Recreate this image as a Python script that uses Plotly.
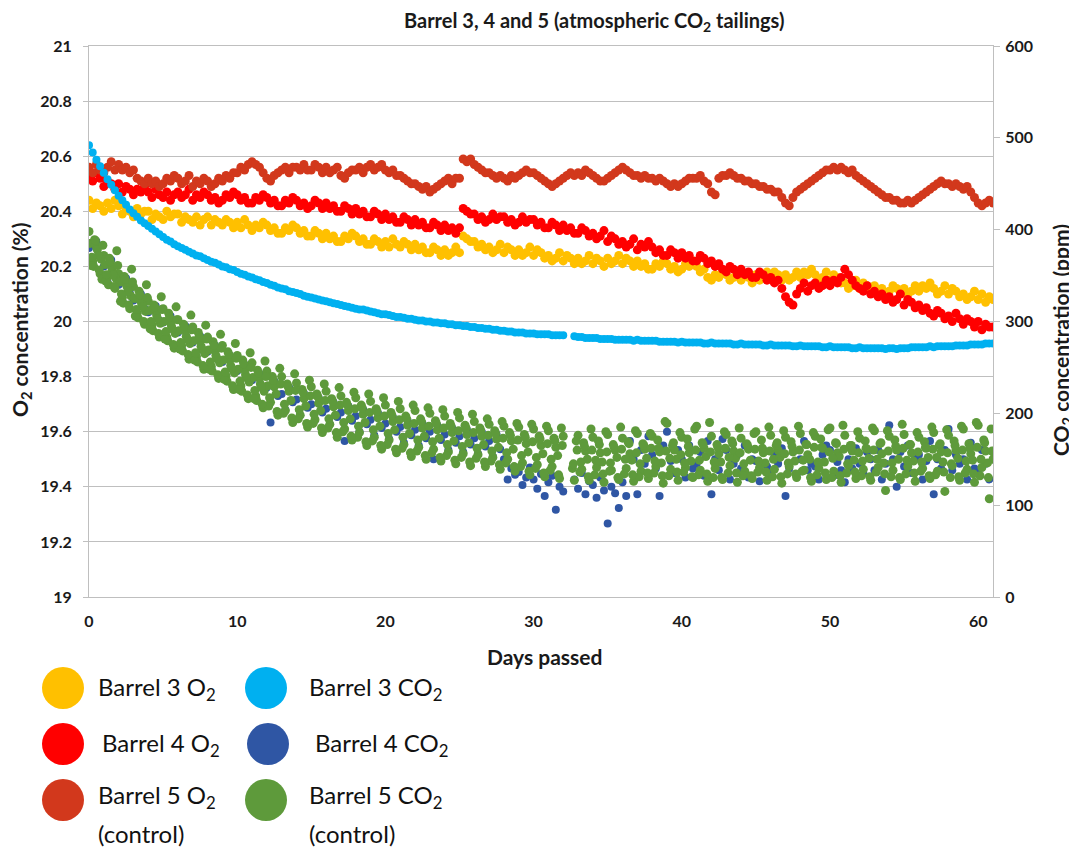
import numpy as np
import plotly.graph_objects as go

# ---------------- data ----------------
# sampling grid: every 0.25 day from day 0 to day 61
days = np.arange(245) * 0.25

barrel3_o2 = [
 20.44, 20.41, 20.43, 20.42,  20.40, 20.43, 20.41, 20.44,  20.42, 20.39, 20.41, 20.40,
 20.38, 20.41, 20.39, 20.40,  20.40, 20.37, 20.39, 20.38,  20.37, 20.40, 20.38, 20.39,
 20.39, 20.36, 20.38, 20.37,  20.36, 20.38, 20.35, 20.37,  20.38, 20.35, 20.37, 20.36,
 20.35, 20.37, 20.36, 20.34,  20.36, 20.34, 20.37, 20.35,  20.33, 20.35, 20.34, 20.36,
 20.35, 20.33, 20.34, 20.32,  20.32, 20.34, 20.33, 20.35,  20.34, 20.32, 20.33, 20.31,
 20.31, 20.33, 20.32, 20.30,  20.32, 20.30, 20.31, 20.29,  20.29, 20.31, 20.30, 20.32,
 20.31, 20.29, 20.30, 20.28,  20.28, 20.30, 20.29, 20.27,  20.29, 20.27, 20.30, 20.28,
 20.27, 20.29, 20.28, 20.26,  20.28, 20.26, 20.27, 20.25,  20.25, 20.27, 20.26, 20.24,
 20.26, 20.24, 20.25, 20.27,  20.25, 20.31, 20.30, 20.29,  20.29, 20.27, 20.28, 20.26,
 20.27, 20.25, 20.26, 20.28,  20.25, 20.27, 20.26, 20.24,  20.26, 20.24, 20.25, 20.27,
 20.24, 20.26, 20.25, 20.23,  20.24, 20.22, 20.23, 20.25,  20.22, 20.24, 20.23, 20.21,
 20.23, 20.21, 20.22, 20.24,  20.21, 20.23, 20.22, 20.20,  20.23, 20.21, 20.22, 20.24,
 20.21, 20.23, 20.22, 20.20,  20.22, 20.20, 20.21, 20.19,  20.19, 20.21, 20.20, 20.22,
 20.21, 20.19, 20.20, 20.18,  20.19, 20.21, 20.20, 20.22,  20.20, 20.18, 20.19, 20.16,
 20.15, 20.17, 20.16, 20.18,  20.17, 20.15, 20.16, 20.18,  20.15, 20.17, 20.16, 20.14,
 20.17, 20.15, 20.16, 20.18,  20.16, 20.18, 20.17, 20.15,  20.17, 20.15, 20.16, 20.18,
 20.16, 20.18, 20.17, 20.19,  20.17, 20.15, 20.16, 20.18,  20.15, 20.17, 20.16, 20.14,
 20.14, 20.12, 20.13, 20.15,  20.12, 20.14, 20.13, 20.11,  20.13, 20.11, 20.12, 20.10,
 20.11, 20.13, 20.12, 20.10,  20.12, 20.10, 20.11, 20.13,  20.11, 20.13, 20.12, 20.14,
 20.12, 20.10, 20.11, 20.13,  20.10, 20.12, 20.11, 20.09,  20.10, 20.08, 20.09, 20.11,
 20.08, 20.10, 20.07, 20.09,  20.08]

barrel4_o2 = [
 20.53, 20.51, 20.54, 20.52,  20.49, 20.51, 20.50, 20.48,  20.50, 20.47, 20.49, 20.48,
 20.46, 20.48, 20.47, 20.49,  20.47, 20.45, 20.48, 20.46,  20.45, 20.47, 20.44, 20.46,
 20.47, 20.45, 20.46, 20.48,  20.44, 20.46, 20.45, 20.47,  20.46, 20.44, 20.45, 20.43,
 20.44, 20.46, 20.45, 20.47,  20.46, 20.44, 20.45, 20.43,  20.43, 20.45, 20.44, 20.46,
 20.45, 20.43, 20.44, 20.42,  20.42, 20.44, 20.43, 20.45,  20.44, 20.42, 20.43, 20.41,
 20.42, 20.44, 20.43, 20.41,  20.43, 20.41, 20.42, 20.40,  20.40, 20.42, 20.41, 20.39,
 20.41, 20.39, 20.40, 20.38,  20.38, 20.40, 20.39, 20.37,  20.39, 20.37, 20.38, 20.36,
 20.36, 20.38, 20.37, 20.35,  20.37, 20.35, 20.36, 20.34,  20.34, 20.36, 20.35, 20.33,
 20.35, 20.33, 20.34, 20.32,  20.34, 20.41, 20.40, 20.39,  20.39, 20.37, 20.38, 20.36,
 20.37, 20.39, 20.37, 20.38,  20.38, 20.36, 20.37, 20.35,  20.36, 20.38, 20.36, 20.37,
 20.37, 20.35, 20.36, 20.34,  20.34, 20.36, 20.35, 20.33,  20.35, 20.33, 20.34, 20.32,
 20.32, 20.34, 20.33, 20.31,  20.32, 20.30, 20.31, 20.33,  20.29, 20.31, 20.30, 20.28,
 20.29, 20.27, 20.28, 20.30,  20.26, 20.28, 20.27, 20.29,  20.27, 20.25, 20.26, 20.24,
 20.24, 20.26, 20.25, 20.23,  20.25, 20.23, 20.24, 20.22,  20.22, 20.24, 20.23, 20.21,
 20.22, 20.20, 20.21, 20.19,  20.18, 20.20, 20.19, 20.17,  20.19, 20.17, 20.18, 20.16,
 20.16, 20.18, 20.17, 20.15,  20.16, 20.14, 20.15, 20.12,  20.09, 20.07, 20.06, 20.10,
 20.12, 20.14, 20.11, 20.13,  20.14, 20.12, 20.13, 20.15,  20.13, 20.15, 20.14, 20.16,
 20.19, 20.17, 20.15, 20.13,  20.12, 20.11, 20.13, 20.10,  20.11, 20.09, 20.10, 20.08,
 20.09, 20.07, 20.08, 20.10,  20.06, 20.08, 20.07, 20.05,  20.06, 20.04, 20.05, 20.03,
 20.02, 20.04, 20.03, 20.01,  20.02, 20.00, 20.03, 20.01,  19.99, 20.01, 20.00, 19.98,
 20.00, 19.97, 19.99, 19.98,  19.98]

barrel5_o2 = [
 20.56, 20.54, 20.57, 20.55,  20.54, 20.56, 20.58, 20.55,  20.57, 20.55, 20.56, 20.54,
 20.55, 20.52, 20.51, 20.50,  20.52, 20.50, 20.51, 20.49,  20.50, 20.52, 20.51, 20.53,
 20.52, 20.50, 20.51, 20.53,  20.49, 20.51, 20.50, 20.52,  20.51, 20.49, 20.50, 20.52,
 20.51, 20.53, 20.52, 20.54,  20.54, 20.56, 20.55, 20.57,  20.58, 20.57, 20.56, 20.54,
 20.52, 20.51, 20.53, 20.54,  20.55, 20.56, 20.54, 20.56,  20.56, 20.55, 20.57, 20.55,
 20.55, 20.57, 20.56, 20.54,  20.56, 20.54, 20.55, 20.56,  20.53, 20.52, 20.54, 20.55,
 20.55, 20.56, 20.54, 20.56,  20.57, 20.55, 20.56, 20.57,  20.55, 20.54, 20.55, 20.53,
 20.53, 20.52, 20.51, 20.50,  20.50, 20.49, 20.48, 20.49,  20.47, 20.48, 20.49, 20.50,
 20.51, 20.52, 20.50, 20.52,  20.52, 20.59, 20.58, 20.59,  20.57, 20.56, 20.55, 20.54,
 20.54, 20.53, 20.52, 20.53,  20.52, 20.51, 20.53, 20.52,  20.53, 20.54, 20.55, 20.54,
 20.54, 20.53, 20.52, 20.51,  20.50, 20.49, 20.50, 20.51,  20.52, 20.53, 20.54, 20.53,
 20.54, 20.53, 20.55, 20.54,  20.53, 20.52, 20.51, 20.51,  20.52, 20.53, 20.54, 20.55,
 20.56, 20.55, 20.54, 20.53,  20.53, 20.52, 20.53, 20.52,  20.52, 20.51, 20.52, 20.51,
 20.50, 20.49, 20.50, 20.49,  20.50, 20.51, 20.52, 20.52,  20.52, 20.53, 20.51, 20.50,
 20.47, 20.46, 20.52, 20.53,  20.53, 20.54, 20.53, 20.52,  20.52, 20.51, 20.51, 20.50,
 20.50, 20.49, 20.49, 20.48,  20.48, 20.47, 20.47, 20.45,  20.43, 20.42, 20.45, 20.47,
 20.48, 20.49, 20.50, 20.51,  20.52, 20.53, 20.54, 20.55,  20.55, 20.56, 20.55, 20.56,
 20.55, 20.54, 20.55, 20.53,  20.52, 20.51, 20.50, 20.49,  20.48, 20.47, 20.46, 20.45,
 20.45, 20.44, 20.44, 20.43,  20.43, 20.44, 20.43, 20.44,  20.45, 20.46, 20.47, 20.48,
 20.49, 20.50, 20.51, 20.50,  20.50, 20.49, 20.50, 20.49,  20.48, 20.49, 20.47, 20.45,
 20.43, 20.42, 20.43, 20.44,  20.43]

barrel3_co2 = [
 492, 484, 476, 469,  462, 455, 449, 443,  437, 432, 427, 422,  418, 414, 410, 407,
 404, 401, 398, 395,  392, 389, 387, 384,  382, 380, 378, 376,  374, 372, 371, 369,
 367, 365, 364, 362,  360, 359, 357, 356,  354, 352, 351, 349,  348, 346, 345, 343,
 342, 340, 339, 337,  336, 335, 333, 332,  331, 330, 328, 327,  326, 325, 324, 323,
 322, 321, 320, 319,  318, 317, 316, 315,  314, 313, 313, 312,  311, 310, 309, 308,
 308, 307, 306, 305,  305, 304, 303, 303,  302, 301, 301, 300,  300, 299, 299, 298,
 298, 297, 297, 296,  296, 295, 295, 294,  294, 293, 293, 292,  292, 291, 291, 290,
 290, 289, 289, 288,  288, 288, 287, 287,  287, 286, 286, 286,  286, 285, 285, 285,
 285, None, None, 284,  283, 283, 282, 282,  282, 282, 281, 281,  281, 281, 280, 280,
 280, 280, 280, 279,  280, 279, 279, 279,  279, 279, 278, 278,  278, 278, 278, 277,
 278, 277, 277, 277,  277, 277, 276, 276,  277, 276, 276, 276,  276, 276, 275, 275,
 276, 275, 275, 275,  275, 275, 274, 274,  275, 274, 274, 274,  274, 274, 273, 273,
 274, 273, 273, 273,  273, 273, 272, 272,  273, 272, 272, 272,  272, 272, 271, 271,
 272, 271, 271, 271,  271, 271, 271, 270,  271, 271, 270, 271,  271, 271, 272, 272,
 272, 272, 272, 273,  272, 273, 273, 273,  273, 273, 274, 274,  274, 274, 275, 275,
 275, 275, 276, 276,  276]

barrel4_co2 = [
 380, 363, 387, 371,  360, 343, 367, 351,  340, 323, 347, 331,  323, 306, 330, 314,
 310, 293, 317, 301,  299, 282, 306, 290,  288, 271, 295, 279,  277, 260, 284, 268,
 267, 250, 274, 258,  256, 239, 263, 247,  246, 229, 253, 237,  236, 219, 243, 227,
 228, 190, 235, 219,  221, 204, 228, 212,  215, 198, 222, 206,  210, 193, 217, 201,
 205, 188, 212, 196,  201, 170, 208, 192,  197, 180, 204, 188,  193, 176, 200, 184,
 189, 172, 196, 180,  185, 168, 192, 176,  182, 165, 189, 173,  180, 150, 187, 171,
 177, 160, 184, 168,  175, 158, 182, 166,  173, 156, 180, 164,  170, 153, 177, 161,
 150, 128, 140, 133,  136, 122, 130, 141,  128, 118, 134, 110,  125, 132, 95, 120,
 115, None, None, 128,  118, 135, 112, 126,  122, 108, 130, 116,  80, 120, 113, 97,
 125, 110, 170, 150,  112, 160, 145, 175,  155, 140, 110, 165,  180, 148, 135, 160,
 150, 130, 165, 140,  145, 158, 132, 170,  112, 150, 138, 172,  160, 128, 145, 155,
 140, 165, 130, 150,  148, 126, 160, 142,  135, 155, 145, 162,  110, 140, 158, 132,
 150, 170, 138, 145,  142, 128, 155, 165,  160, 132, 147, 138,  125, 150, 140, 162,
 145, 135, 158, 150,  138, 160, 128, 145,  187, 150, 120, 158,  142, 165, 135, 150,
 155, 128, 148, 170,  112, 150, 140, 160,  183, 138, 155, 145,  150, 128, 168, 140,
 135, 160, 145, 128,  150]

barrel5_co2_a = [
 398, 366, 381, 352,  372, 348, 360, 336,  352, 326, 341, 314,  338, 309, 322, 297,
 322, 296, 311, 283,  314, 283, 299, 271,  302, 274, 290, 259,  294, 262, 279, 248,
 283, 251, 268, 238,  274, 241, 258, 226,  263, 230, 247, 216,  255, 219, 238, 206,
 246, 212, 229, 198,  240, 203, 224, 190,  233, 198, 216, 185,  229, 193, 211, 179,
 224, 188, 207, 174,  219, 183, 203, 171,  217, 179, 199, 165,  213, 174, 195, 161,
 209, 171, 191, 157,  205, 166, 187, 153,  203, 163, 184, 150,  200, 161, 182, 148,
 197, 158, 179, 145,  195, 156, 177, 143,  191, 155, 175, 142,  188, 152, 172, 139,
 186, 150, 170, 137,  185, 146, 167, 133,  183, 144, 165, 131,  181, 142, 163, 129,
 175, None, None, 127,  176, 139, 159, 127,  174, 141, 157, 125,  177, 138, 160, 128,
 173, 140, 156, 126,  178, 137, 161, 129,  175, 142, 158, 124,  189, 139, 160, 127,
 174, 141, 157, 130,  186, 138, 162, 126,  175, 140, 156, 128,  177, 143, 159, 125,
 173, 137, 161, 129,  180, 141, 157, 127,  176, 139, 160, 124,  174, 142, 158, 130,
 178, 138, 155, 126,  175, 140, 162, 128,  184, 137, 157, 125,  176, 143, 159, 129,
 173, 139, 161, 127,  181, 141, 156, 116,  175, 138, 160, 128,  177, 142, 157, 126,
 174, 140, 162, 129,  179, 137, 158, 115,  176, 143, 160, 127,  183, 139, 156, 125,
 187, 141, 159, 107,  150]

barrel5_co2_b = [
 361, 389, 372, 346,  344, 369, 351, 377,  322, 349, 333, 357,  306, 333, 316, 340,
 292, 318, 303, 327,  281, 309, 292, 316,  270, 297, 281, 307,  258, 288, 270, 296,
 248, 278, 260, 286,  237, 267, 249, 276,  226, 258, 239, 266,  216, 247, 229, 257,
 208, 240, 221, 249,  200, 232, 214, 243,  194, 226, 208, 236,  189, 221, 203, 232,
 184, 216, 198, 228,  180, 212, 194, 223,  174, 209, 190, 221,  170, 205, 186, 217,
 166, 201, 182, 213,  162, 197, 178, 209,  159, 194, 175, 206,  157, 192, 173, 204,
 154, 189, 170, 201,  152, 187, 168, 199,  151, 184, 166, 194,  148, 181, 163, 191,
 146, 179, 161, 189,  142, 177, 158, 188,  140, 175, 156, 186,  138, 173, 154, 184,
 None, None, 140, 170,  136, 168, 150, 183,  133, 170, 147, 180,  137, 166, 152, 185,
 134, 169, 149, 181,  131, 167, 151, 178,  135, 171, 146, 191,  132, 165, 150, 179,
 136, 172, 148, 183,  133, 168, 153, 190,  130, 166, 147, 180,  135, 170, 151, 184,
 132, 167, 149, 178,  136, 171, 146, 185,  131, 165, 152, 181,  134, 169, 148, 186,
 137, 166, 150, 179,  133, 172, 147, 182,  130, 168, 153, 187,  135, 165, 149, 180,
 132, 170, 151, 184,  136, 167, 146, 181,  131, 171, 150, 188,  134, 166, 148, 179,
 137, 169, 152, 185,  133, 165, 147, 182,  130, 170, 151, 186,  135, 167, 149, 190,
 132, 171, 146, 183,  155]

barrel5_co2_c = [
 385, 360, 378, 368,  362, 340, 356, 347,  343, 320, 338, 328,  325, 304, 319, 311,
 312, 290, 307, 298,  300, 279, 295, 287,  290, 268, 284, 276,  279, 256, 273, 265,
 269, 246, 263, 255,  258, 235, 252, 244,  248, 224, 242, 234,  239, 214, 232, 224,
 230]

barrel5_co2_d = [
 370, 388, 356, 383,  351, 365, 338, 361,  330, 346, 318, 343,  313, 329, 300, 326,
 300, 316, 287, 313,  289, 305, 275, 302,  277, 295, 264, 291,  266, 284, 252, 281,
 256, 274, 242, 271,  245, 264, 230, 260,  235, 254, 220, 250,  225, 244, 210, 240,
 217, 236, 202, 232,  210, 229, 195, 225,  204, 223, 189, 219,  199, 218, 184, 214,
 194, 213, 179, 209,  190, 209, 175, 205,  186, 206, 169, 201,  182, 202, 165, 197,
 178, 198, 161, 193,  174, 194, 157, 189,  171, 191, 154, 186,  169, 189, 152, 184,
 166, 186, 149, 181,  164, 184, 147, 179,  162, 181, 147, 176,  159, 178, 144, 173,
 157, 176, 142, 171,  154, 174, 137, 169,  152, 172, 135, 167,  150, 170, 133, 165,
 None, None, 145, 160,  147, 164, 131, 160,  149, 166, 134, 158,  146, 163, 130, 161,
 150, 167, 133, 157,  145, 165, 135, 162,  148, 162, 132, 159,  151, 168, 136, 155,
 146, 164, 131, 160,  149, 166, 134, 158,  147, 163, 130, 162,  152, 167, 135, 157,
 145, 165, 132, 161,  148, 162, 136, 159,  150, 168, 131, 156,  146, 164, 134, 160,
 149, 166, 130, 163,  147, 163, 135, 158,  151, 167, 132, 161,  145, 165, 136, 157,
 148, 162, 131, 160,  150, 168, 134, 159,  146, 164, 130, 162,  149, 166, 135, 158,
 147, 163, 132, 161,  152, 167, 136, 157,  145, 165, 131, 160,  148, 162, 134, 163,
 150, 168, 130, 159,  152]

x_ticks = [0, 10, 20, 30, 40, 50, 60]

legend_items = [
    ("Barrel 3 O<sub>2</sub>", "#FFC000"),
    ("Barrel 4 O<sub>2</sub>", "#FF0000"),
    ("Barrel 5 O<sub>2</sub>", "#D2381C"),
    ("Barrel 3 CO<sub>2</sub>", "#00B0F0"),
    ("Barrel 4 CO<sub>2</sub>", "#2F56A4"),
    ("Barrel 5 CO<sub>2</sub>", "#5E9A3B"),
]

# ---------------- figure ----------------
FONT = "Lato"
PAGE_OFF = 8                      # default body margin of the html page
W, H = 1077 - PAGE_OFF, 853 - PAGE_OFF
PLOT_L, PLOT_R, PLOT_T, PLOT_B = 89, 993, 46, 597   # plot box in page pixels
L = PLOT_L - PAGE_OFF
T = PLOT_T - PAGE_OFF
R = W - (PLOT_R - PAGE_OFF)
B = H - (PLOT_B - PAGE_OFF)
PW, PH = PLOT_R - PLOT_L, PLOT_B - PLOT_T


def px_x(px):
    return (px - PLOT_L) / PW


def px_y(py):
    return (PLOT_B - py) / PH


def xs(vals, offset=0.0):
    return days[:len(vals)] + offset


fig = go.Figure()

o2_series = [(barrel3_o2, legend_items[0]), (barrel4_o2, legend_items[1]),
             (barrel5_o2, legend_items[2])]
for vals, (name, col) in o2_series:
    fig.add_trace(go.Scatter(x=xs(vals), y=vals, mode="markers", name=name,
                             marker=dict(color=col, size=9, line=dict(width=0)),
                             showlegend=False))

fig.add_trace(go.Scatter(x=xs(barrel3_co2), y=barrel3_co2, mode="markers",
                         yaxis="y2", marker=dict(color=legend_items[3][1], size=8),
                         showlegend=False))
fig.add_trace(go.Scatter(x=xs(barrel4_co2), y=barrel4_co2, mode="markers",
                         yaxis="y2", marker=dict(color=legend_items[4][1], size=8),
                         showlegend=False))
green_x = np.concatenate([xs(barrel5_co2_a), xs(barrel5_co2_c, 0.0625),
                          xs(barrel5_co2_b, 0.125), xs(barrel5_co2_d, 0.1875)])
green_y = (list(barrel5_co2_a) + list(barrel5_co2_c) + list(barrel5_co2_b)
           + list(barrel5_co2_d))
fig.add_trace(go.Scatter(x=green_x, y=green_y, mode="markers", yaxis="y2",
                         marker=dict(color=legend_items[5][1], size=9),
                         showlegend=False))

tickfont = dict(family=FONT, size=16, color="#1a1a1a", weight="bold")
grid = "#BFBFBF"

fig.update_layout(
    width=W, height=H,
    margin=dict(l=L, r=R, t=T, b=B),
    paper_bgcolor="white", plot_bgcolor="white",
    showlegend=False,
    xaxis=dict(range=[0, 61], tickvals=x_ticks, showgrid=False, zeroline=False,
               showline=True, mirror=True, linecolor=grid, linewidth=1,
               ticks="", ticklabelstandoff=10, tickfont=tickfont),
    yaxis=dict(range=[19, 21], dtick=0.2, tick0=19, showgrid=True, gridcolor=grid,
               gridwidth=1, zeroline=False, showline=True, linecolor=grid,
               ticks="outside", ticklen=5, tickcolor=grid,
               ticklabelstandoff=8, tickfont=tickfont),
    yaxis2=dict(range=[0, 600], dtick=100, overlaying="y", side="right",
                showgrid=False, zeroline=False, showline=True, linecolor=grid,
                ticks="outside", ticklen=6, tickcolor=grid,
                ticklabelstandoff=2, tickfont=tickfont),
)

title_font = dict(family=FONT, size=21, color="#1a1a1a", weight="bold")
ann = []
ann.append(dict(text="Barrel 3, 4 and 5 (atmospheric CO<sub>2</sub> tailings)",
                x=px_x(594), y=px_y(22), xref="paper", yref="paper",
                showarrow=False, xanchor="center", yanchor="middle",
                borderpad=0, font=dict(family=FONT, size=20, color="#1a1a1a",
                                       weight="bold")))
ann.append(dict(text="O<sub>2</sub> concentration (%)", textangle=-90,
                x=px_x(21), y=px_y(320), xref="paper", yref="paper",
                showarrow=False, xanchor="center", yanchor="middle",
                font=title_font))
ann.append(dict(text="CO<sub>2</sub> concentration (ppm)", textangle=-90,
                x=px_x(1062), y=px_y(340), xref="paper", yref="paper",
                showarrow=False, xanchor="center", yanchor="middle",
                font=title_font))
ann.append(dict(text="Days passed", x=px_x(544), y=px_y(656), xref="paper",
                yref="paper", showarrow=False, xanchor="center", yanchor="middle",
                font=title_font))

# custom legend (large circles + labels) below the plot
leg_pos = [(63, 688, 96, 688), (63, 744, 100, 744), (63, 800, 96, 796),
           (266, 688, 307, 688), (268, 744, 313, 744), (266, 800, 307, 796)]
shapes = []
lfont = dict(family=FONT, size=24, color="#111111")
for (name, col), (cx, cy, tx, ty) in zip(legend_items, leg_pos):
    shapes.append(dict(type="circle", xref="paper", yref="paper",
                       xsizemode="pixel", ysizemode="pixel",
                       xanchor=px_x(cx), yanchor=px_y(cy),
                       x0=-21, x1=21, y0=-21, y1=21,
                       fillcolor=col, line=dict(width=0)))
    ann.append(dict(text=name, x=px_x(tx), y=px_y(ty), xref="paper", yref="paper",
                    showarrow=False, xanchor="left", yanchor="middle", font=lfont))
for tx in (96, 307):
    ann.append(dict(text="(control)", x=px_x(tx), y=px_y(833), xref="paper",
                    yref="paper", showarrow=False, xanchor="left",
                    yanchor="middle", font=lfont))

fig.update_layout(annotations=ann, shapes=shapes)
fig.write_html("out.html")
